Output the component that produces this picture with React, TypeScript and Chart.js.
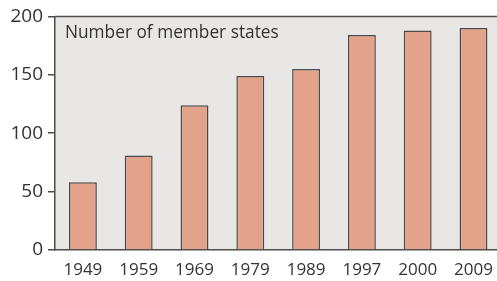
import React, { useEffect, useRef } from "react";
import { Chart, registerables } from "chart.js";
Chart.register(...registerables);

const years = ["1949", "1959", "1969", "1979", "1989", "1997", "2000", "2009"];
const memberStates = [58, 81, 124, 149, 155, 184, 188, 190];
const yTickValues = [0, 50, 100, 150, 200];
const chartTitle = "Number of member states";

const FONT = "'Open Sans', sans-serif";
const TEXT = "#333333";
const LINE = "#4d4d4d";

export default function App() {
  const ref = useRef<HTMLCanvasElement>(null);
  useEffect(() => {
    if (!ref.current) return;
    const areaPlugin = {
      id: "areaDeco",
      beforeDraw(chart: any) {
        const { ctx, chartArea: a } = chart;
        ctx.save();
        ctx.fillStyle = "#e8e7e5";
        ctx.fillRect(a.left, a.top, a.right - a.left, a.bottom - a.top);
        ctx.restore();
      },
      afterDraw(chart: any) {
        const { ctx, chartArea: a } = chart;
        ctx.save();
        ctx.strokeStyle = LINE;
        ctx.lineWidth = 1.5;
        ctx.beginPath();
        ctx.moveTo(a.left, a.top);
        ctx.lineTo(a.right, a.top);
        ctx.stroke();
        ctx.fillStyle = TEXT;
        ctx.font = `17.3px ${FONT}`;
        ctx.textBaseline = "alphabetic";
        ctx.textAlign = "left";
        ctx.fillText(chartTitle, a.left + 10, a.top + 22);
        ctx.restore();
      },
    };
    const chart = new Chart(ref.current, {
      type: "bar",
      data: {
        labels: years,
        datasets: [
          {
            data: memberStates,
            backgroundColor: "#e3a38a",
            borderColor: "#4a4a4a",
            borderWidth: 1.5,
            categoryPercentage: 1,
            barPercentage: 0.5,
          },
        ],
      },
      options: {
        responsive: false,
        animation: false,
        layout: { padding: { top: 16, right: 1, bottom: 0, left: 0 } },
        plugins: { legend: { display: false }, tooltip: { enabled: false } },
        scales: {
          x: {
            grid: { display: false, drawTicks: false },
            border: { display: true, color: LINE, width: 1.5 },
            ticks: { color: TEXT, font: { family: FONT, size: 17 }, padding: 10 },
            afterFit(scale: any) {
              scale.height = 31;
            },
          },
          y: {
            min: 0,
            max: 200,
            afterBuildTicks(scale: any) {
              scale.ticks = yTickValues.map((v) => ({ value: v }));
            },
            grid: { drawOnChartArea: false, drawTicks: true, tickLength: 7, tickColor: LINE, lineWidth: 1.5 },
            border: { display: true, color: LINE, width: 1.5 },
            ticks: { color: TEXT, font: { family: FONT, size: 19 }, padding: 5 },
            afterFit(scale: any) {
              scale.width = 55;
            },
          },
        },
      },
      plugins: [areaPlugin],
    });
    return () => chart.destroy();
  }, []);
  return (
    <div style={{ position: "fixed", left: 0, top: 0, width: 497, height: 281, overflow: "hidden", background: "#ffffff" }}>
      <canvas ref={ref} width={503} height={281} style={{ display: "block", width: 503, height: 281 }} />
    </div>
  );
}
